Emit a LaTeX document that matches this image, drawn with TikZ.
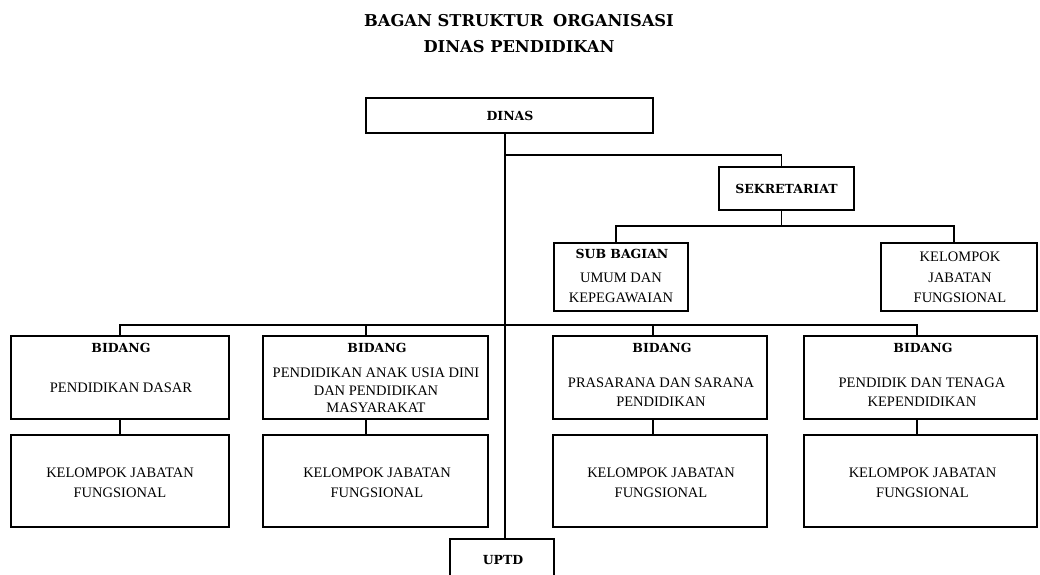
\documentclass[tikz,border=0pt]{standalone}
\usepackage{fontspec}
\setmainfont{Liberation Serif}
\newfontfamily\slabfont{DejaVu Serif}
\begin{document}
\begin{tikzpicture}[x=1pt,y=-1pt,
  box/.style={draw, line width=1.8pt, inner sep=0pt, anchor=center},
  conn/.style={line width=1.8pt},
  reg/.style={font=\fontsize{14.5}{20}\selectfont, align=center, inner sep=0pt},
  hd/.style={font=\slabfont\bfseries\fontsize{12.5}{15}\selectfont, inner sep=0pt},
  ttl/.style={font=\slabfont\bfseries\fontsize{16.3}{26}\selectfont, align=center, inner sep=0pt}]
\useasboundingbox (0,0) rectangle (1040,574);
\clip (0,0) rectangle (1040,574);
% title
\node[ttl] (title) at (519,34) {BAGAN STRUKTUR\hspace{0.6em}ORGANISASI\\DINAS PENDIDIKAN};
% boxes
\node[box, minimum width=287pt, minimum height=35pt] (dinas) at (509.5,115.5) {};
\node[box, minimum width=135pt, minimum height=43pt] (sek) at (786.5,188.5) {};
\node[box, minimum width=134pt, minimum height=68pt] (sub) at (621,277) {};
\node[box, minimum width=156pt, minimum height=68pt] (kjf) at (959,277) {};
\node[box, minimum width=218pt, minimum height=83pt] (b1) at (120,377.5) {};
\node[box, minimum width=225pt, minimum height=83pt] (b2) at (375.5,377.5) {};
\node[box, minimum width=214pt, minimum height=83pt] (b3) at (660,377.5) {};
\node[box, minimum width=233pt, minimum height=83pt] (b4) at (920.5,377.5) {};
\node[box, minimum width=218pt, minimum height=92pt] (k1) at (120,481) {};
\node[box, minimum width=225pt, minimum height=92pt] (k2) at (375.5,481) {};
\node[box, minimum width=214pt, minimum height=92pt] (k3) at (660,481) {};
\node[box, minimum width=233pt, minimum height=92pt] (k4) at (920.5,481) {};
\node[box, minimum width=104pt, minimum height=51pt] (uptd) at (502,564.5) {};
% texts
\node[hd] (tdinas) at (510,115.5) {DINAS};
\node[hd] (tsek) at (786.5,189) {SEKRETARIAT};
\node[hd] (tsubh) at (622,254) {SUB BAGIAN};
\node[reg] (tsub) at (621,288) {UMUM DAN\\KEPEGAWAIAN};
\node[reg, font=\fontsize{14.5}{20.5}\selectfont] (tkjf) at (960,277.5) {KELOMPOK\\JABATAN\\FUNGSIONAL};
\node[hd] (tb1h) at (121,348) {BIDANG};
\node[reg] (tb1) at (121,388) {PENDIDIKAN DASAR};
\node[hd] (tb2h) at (377,348) {BIDANG};
\node[reg, font=\fontsize{14.5}{17.5}\selectfont] (tb2) at (376,390.5) {PENDIDIKAN ANAK USIA DINI\\DAN PENDIDIKAN\\MASYARAKAT};
\node[hd] (tb3h) at (662,348) {BIDANG};
\node[reg, font=\fontsize{14.5}{19}\selectfont] (tb3) at (661,392.5) {PRASARANA DAN SARANA\\PENDIDIKAN};
\node[hd] (tb4h) at (923,348) {BIDANG};
\node[reg, font=\fontsize{14.5}{19}\selectfont] (tb4) at (922,392.5) {PENDIDIK DAN TENAGA\\KEPENDIDIKAN};
\node[reg] (tk1) at (120,483) {KELOMPOK JABATAN\\FUNGSIONAL};
\node[reg] (tk2) at (377,483) {KELOMPOK JABATAN\\FUNGSIONAL};
\node[reg] (tk3) at (661,483) {KELOMPOK JABATAN\\FUNGSIONAL};
\node[reg] (tk4) at (922.5,483) {KELOMPOK JABATAN\\FUNGSIONAL};
\node[hd] (tuptd) at (503,560) {UPTD};
% connectors
\coordinate (spx) at (505,0);
\coordinate (j1) at (505,155);
\coordinate (j2) at (781.5,226);
\coordinate (j3) at (505,325);
\draw[conn] (dinas.south -| spx) -- (uptd.north -| spx);
\draw[conn] (j1) -| ([xshift=-5pt]sek.north);
\draw[conn] ([xshift=-5pt]sek.south) -- (j2);
\draw[conn] ([xshift=-5pt]sub.north) |- (j2) -| ([xshift=-5pt]kjf.north);
\draw[conn] (b1.north) |- (j3) -| ([xshift=-3.5pt]b4.north);
\draw[conn] ([xshift=-9.5pt]b2.north) -- ([xshift=-9.5pt]b2.north |- j3);
\draw[conn] ([xshift=-7pt]b3.north) -- ([xshift=-7pt]b3.north |- j3);
\draw[conn] (b1.south) -- (k1.north);
\draw[conn] ([xshift=-9.5pt]b2.south) -- ([xshift=-9.5pt]k2.north);
\draw[conn] ([xshift=-7pt]b3.south) -- ([xshift=-7pt]k3.north);
\draw[conn] ([xshift=-3.5pt]b4.south) -- ([xshift=-3.5pt]k4.north);
\end{tikzpicture}
\end{document}
